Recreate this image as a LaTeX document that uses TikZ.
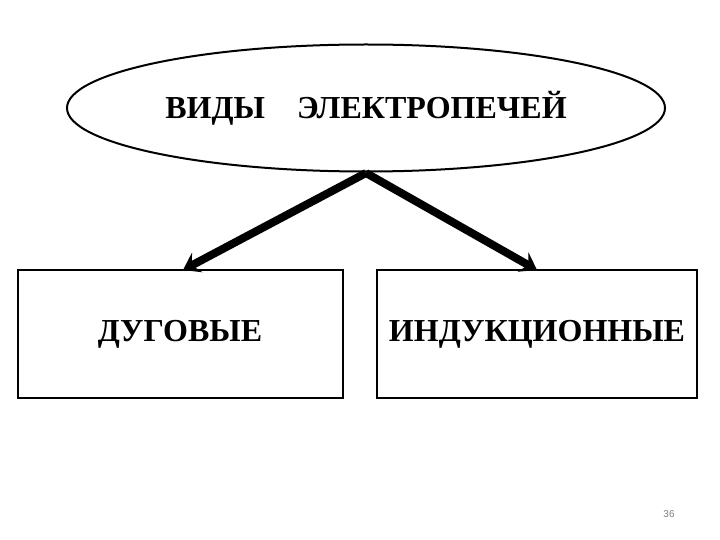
\documentclass[tikz,border=0pt]{standalone}
\usepackage{fontspec}
\setmainfont{Liberation Serif}
\newfontfamily\numfont{Liberation Sans}
\usetikzlibrary{shapes.geometric,arrows.meta}
\begin{document}
\begin{tikzpicture}[x=1pt,y=-1pt,
  lbl/.style={font=\fontsize{32}{36}\selectfont\bfseries},
  kind/.style={draw, line width=2pt, minimum width=325pt, minimum height=128pt, inner sep=0pt},
  bigarrow/.style={line width=8pt, -{Stealth[length=16pt,width=22pt,inset=6pt]}}]
\useasboundingbox (0,0) rectangle (720,540);
\node[draw, ellipse, line width=2pt, minimum width=598pt, minimum height=127pt, inner sep=0pt] (top) at (366,108) {};
\node[lbl] (toplbl) at (366,108) {ВИДЫ\hspace{1em}ЭЛЕКТРОПЕЧЕЙ};
\node[kind] (left) at (180,334) {};
\node[kind, minimum width=320pt] (right) at (537,334) {};
\node[lbl] (leftlbl) at (180,334) {ДУГОВЫЕ};
\node[lbl] (rightlbl) at (537,334) {ИНДУКЦИОННЫЕ};
\coordinate (apex) at (366,173);
\draw[bigarrow] (apex) -- (183,270);
\draw[bigarrow] (apex) -- (537,270);
\node[font=\numfont\fontsize{10}{12}\selectfont, text=gray] (pg) at (669,514) {36};
\end{tikzpicture}
\end{document}
